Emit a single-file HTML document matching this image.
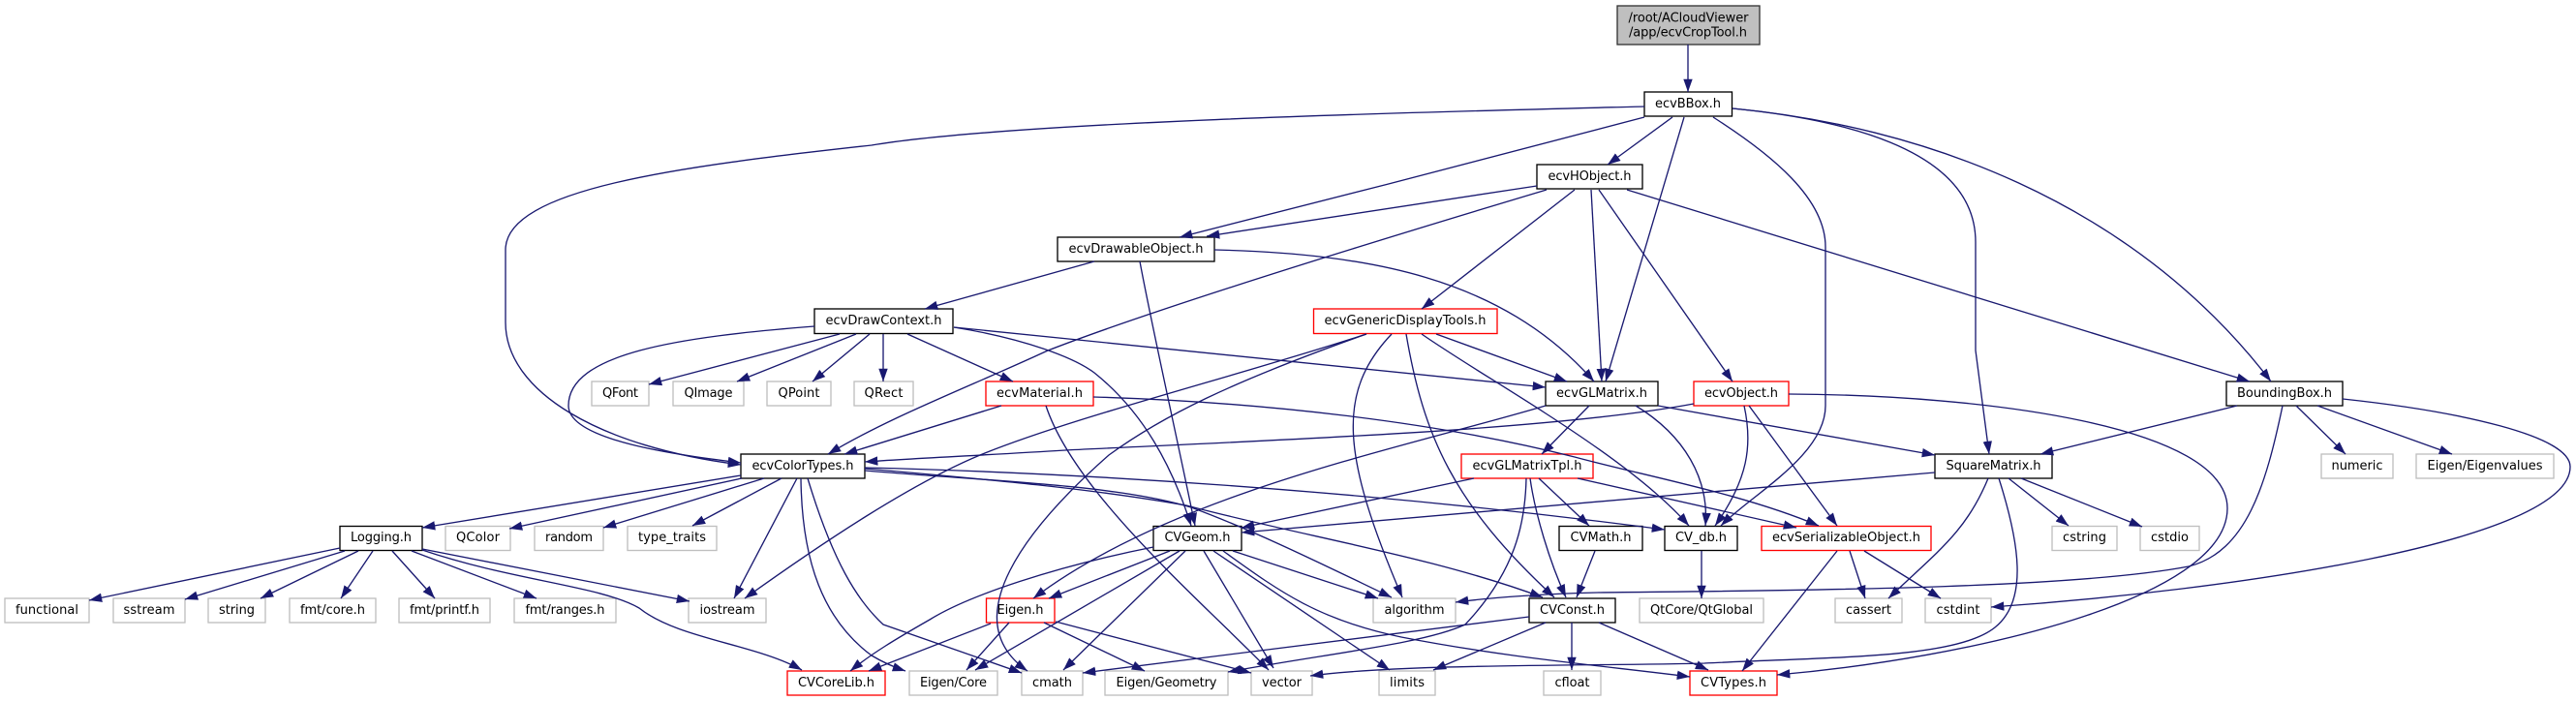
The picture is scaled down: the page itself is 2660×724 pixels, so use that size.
<!DOCTYPE html>
<html>
<head>
<meta charset="utf-8">
<title>ecvCropTool.h include graph</title>
<style>
html,body{margin:0;padding:0;background:#fff;}
svg{display:block;}
text{font-family:"DejaVu Sans","Liberation Sans",sans-serif;font-size:13px;fill:#000;text-anchor:middle;}
.k{fill:#fff;stroke:#000;stroke-width:1.33;}
.g{fill:#fff;stroke:#bfbfbf;stroke-width:1.33;}
.r{fill:#fff;stroke:#ff0000;stroke-width:1.33;}
</style>
</head>
<body>
<svg xmlns="http://www.w3.org/2000/svg" width="2660" height="724" viewBox="0 0 2660 724">
<defs>
<marker id="a" markerUnits="userSpaceOnUse" markerWidth="14" markerHeight="10" viewBox="0 0 14 10" refX="13.3" refY="5" orient="auto">
<path d="M0,.3 L13.3,5 L0,9.7 z" fill="#191970" stroke="none"/>
</marker>
</defs>

<!-- nodes -->
<rect x="1670" y="6" width="147" height="40" fill="#bfbfbf" stroke="#333" stroke-width="1.33"/>
<text x="1743.5" y="22.7" textLength="124">/root/ACloudViewer</text>
<text x="1743" y="37.7" textLength="122">/app/ecvCropTool.h</text>

<rect class="k" x="1698" y="95" width="90.5" height="25"/><text x="1743" y="111" textLength="68">ecvBBox.h</text>
<rect class="k" x="1587" y="170" width="109" height="25"/><text x="1641.5" y="186" textLength="86">ecvHObject.h</text>
<rect class="k" x="1092" y="245" width="162" height="25"/><text x="1173" y="261" textLength="139">ecvDrawableObject.h</text>
<rect class="k" x="841" y="319" width="143" height="25.5"/><text x="912.5" y="335" textLength="120">ecvDrawContext.h</text>
<rect class="r" x="1356.5" y="319" width="189.5" height="25.5"/><text x="1451" y="335" textLength="167">ecvGenericDisplayTools.h</text>

<rect class="g" x="611" y="394" width="59" height="25"/><text x="640.5" y="410" textLength="37">QFont</text>
<rect class="g" x="695" y="394" width="73" height="25"/><text x="731.5" y="410" textLength="50">QImage</text>
<rect class="g" x="792" y="394" width="66" height="25"/><text x="825" y="410" textLength="43">QPoint</text>
<rect class="g" x="882" y="394" width="61" height="25"/><text x="912.5" y="410" textLength="40">QRect</text>
<rect class="r" x="1018" y="394" width="111" height="25"/><text x="1073.5" y="410" textLength="89">ecvMaterial.h</text>
<rect class="k" x="1596" y="394" width="116" height="25"/><text x="1654" y="410" textLength="94">ecvGLMatrix.h</text>
<rect class="r" x="1749" y="394" width="98" height="25"/><text x="1798" y="410" textLength="76">ecvObject.h</text>
<rect class="k" x="2299" y="394" width="120" height="25"/><text x="2359" y="410" textLength="98">BoundingBox.h</text>

<rect class="k" x="765" y="469" width="128" height="25"/><text x="829" y="485" textLength="105">ecvColorTypes.h</text>
<rect class="r" x="1509" y="469" width="136" height="25"/><text x="1577" y="485" textLength="113">ecvGLMatrixTpl.h</text>
<rect class="k" x="1998" y="469" width="121" height="25"/><text x="2058.5" y="485" textLength="98">SquareMatrix.h</text>
<rect class="g" x="2397" y="469" width="74" height="25"/><text x="2434" y="485" textLength="53">numeric</text>
<rect class="g" x="2495" y="469" width="142" height="25"/><text x="2566" y="485" textLength="119">Eigen/Eigenvalues</text>

<rect class="k" x="351" y="543.5" width="85" height="25"/><text x="393.5" y="559" textLength="63">Logging.h</text>
<rect class="g" x="460" y="543.5" width="67" height="25"/><text x="493.5" y="559" textLength="45">QColor</text>
<rect class="g" x="552" y="543.5" width="71" height="25"/><text x="587.5" y="559" textLength="49">random</text>
<rect class="g" x="648" y="543.5" width="92" height="25"/><text x="694" y="559" textLength="70">type_traits</text>
<rect class="k" x="1191" y="543.5" width="91" height="25"/><text x="1236.5" y="559" textLength="68">CVGeom.h</text>
<rect class="k" x="1610" y="543.5" width="86" height="25"/><text x="1653" y="559" textLength="63">CVMath.h</text>
<rect class="k" x="1719" y="543.5" width="75" height="25"/><text x="1756.5" y="559" textLength="53">CV_db.h</text>
<rect class="r" x="1819" y="543.5" width="175" height="25"/><text x="1906.5" y="559" textLength="153">ecvSerializableObject.h</text>
<rect class="g" x="2119" y="543.5" width="67" height="25"/><text x="2152.5" y="559" textLength="45">cstring</text>
<rect class="g" x="2210" y="543.5" width="61" height="25"/><text x="2240.5" y="559" textLength="39">cstdio</text>

<rect class="g" x="5" y="618" width="87" height="25"/><text x="48.5" y="634" textLength="65">functional</text>
<rect class="g" x="117" y="618" width="74" height="25"/><text x="154" y="634" textLength="53">sstream</text>
<rect class="g" x="215" y="618" width="59" height="25"/><text x="244.5" y="634" textLength="37">string</text>
<rect class="g" x="299" y="618" width="89" height="25"/><text x="343.5" y="634" textLength="67">fmt/core.h</text>
<rect class="g" x="412" y="618" width="94" height="25"/><text x="459" y="634" textLength="72">fmt/printf.h</text>
<rect class="g" x="531" y="618" width="105" height="25"/><text x="583.5" y="634" textLength="82">fmt/ranges.h</text>
<rect class="g" x="711" y="618" width="80" height="25"/><text x="751" y="634" textLength="57">iostream</text>
<rect class="r" x="1018.5" y="618" width="70.5" height="25"/><text x="1053.5" y="634" textLength="48">Eigen.h</text>
<rect class="g" x="1418" y="618" width="85" height="25"/><text x="1460.5" y="634" textLength="62">algorithm</text>
<rect class="k" x="1579" y="618" width="89" height="25"/><text x="1623.5" y="634" textLength="67">CVConst.h</text>
<rect class="g" x="1693" y="618" width="128" height="25"/><text x="1757" y="634" textLength="106">QtCore/QtGlobal</text>
<rect class="g" x="1895" y="618" width="69" height="25"/><text x="1929.5" y="634" textLength="47">cassert</text>
<rect class="g" x="1988" y="618" width="68" height="25"/><text x="2022" y="634" textLength="45">cstdint</text>

<rect class="r" x="813" y="693" width="101" height="25"/><text x="863.5" y="709" textLength="79">CVCoreLib.h</text>
<rect class="g" x="939" y="693" width="91" height="25"/><text x="984.5" y="709" textLength="69">Eigen/Core</text>
<rect class="g" x="1055" y="693" width="63" height="25"/><text x="1086.5" y="709" textLength="41">cmath</text>
<rect class="g" x="1141" y="693" width="127" height="25"/><text x="1204.5" y="709" textLength="104">Eigen/Geometry</text>
<rect class="g" x="1292" y="693" width="63" height="25"/><text x="1323.5" y="709" textLength="41">vector</text>
<rect class="g" x="1424" y="693" width="58" height="25"/><text x="1453" y="709" textLength="36">limits</text>
<rect class="g" x="1594" y="693" width="59" height="25"/><text x="1623.5" y="709" textLength="36">cfloat</text>
<rect class="r" x="1745" y="693" width="90" height="25"/><text x="1790" y="709" textLength="68">CVTypes.h</text>

<!-- edges -->
<g fill="none" stroke="#191970" stroke-width="1.33" marker-end="url(#a)">
<path d="M1743,46 L1743,95"/>
<!-- ecvBBox -->
<path d="M1698,110 C1500,115 1050,125 900,150 C700,172 522,195 522,258 L522,333 C522,405 620,462 765,480"/>
<path d="M1698,121 C1620,142 1350,212 1218,245"/>
<path d="M1727,121 L1660,170"/>
<path d="M1739,121 L1658,394"/>
<path d="M1769,121 C1830,160 1885,205 1885,255 L1885,419 C1885,470 1810,510 1777,543"/>
<path d="M1789,112 C1890,122 2040,150 2040,250 L2040,362 L2054,469"/>
<path d="M1789,112 C1980,130 2200,205 2345,394"/>
<!-- ecvHObject -->
<path d="M1587,192 L1246,244"/>
<path d="M1597,196 C1400,255 1190,320 1082,362 C1000,400 920,430 855,469"/>
<path d="M1626,196 L1468,319"/>
<path d="M1643,196 L1654,394"/>
<path d="M1651,196 L1789,394"/>
<path d="M1680,196 L2323,394"/>
<!-- ecvDrawableObject -->
<path d="M1130,270 L955,319"/>
<path d="M1177,270 C1190,340 1215,450 1234,543"/>
<path d="M1254,258 C1410,262 1550,285 1646,394"/>
<!-- ecvDrawContext -->
<path d="M841,337 C700,348 587,365 587,419 C587,455 700,470 765,478"/>
<path d="M867,345 L670,397"/>
<path d="M884,345 L761,394"/>
<path d="M898,345 L839,394"/>
<path d="M912,345 L912,394"/>
<path d="M937,345 L1046,394"/>
<path d="M985,338 C1060,350 1110,370 1130,385 C1180,425 1210,480 1230,543"/>
<path d="M985,338 L1596,400"/>
<!-- ecvMaterial -->
<path d="M1034,419 L872,469"/>
<path d="M1080,419 C1110,510 1240,620 1310,692"/>
<path d="M1129,410 C1300,415 1480,435 1626,472 C1700,492 1800,510 1878,543"/>
<!-- ecvGenericDisplayTools -->
<path d="M1483,345 L1618,394"/>
<path d="M1468,345 C1540,395 1680,470 1744,543"/>
<path d="M1452,345 C1470,450 1500,520 1605,617"/>
<path d="M1437,345 C1380,405 1385,470 1448,617"/>
<path d="M1411,345 C1280,388 1110,430 1012,470 C940,500 850,560 769,618"/>
<path d="M1411,345 C1270,395 1200,430 1145,470 C1060,545 985,640 1061,693"/>
<!-- ecvGLMatrix -->
<path d="M1641,419 L1592,469"/>
<path d="M1689,419 C1740,450 1765,495 1761,543"/>
<path d="M1712,419 L1998,470"/>
<path d="M1596,419 C1440,465 1210,510 1067,618"/>
<!-- ecvObject -->
<path d="M1749,417 C1600,445 1300,455 1100,465 C1020,470 950,473 893,477"/>
<path d="M1801,419 C1810,460 1805,495 1771,543"/>
<path d="M1806,419 L1897,543"/>
<path d="M1847,407 C2050,408 2300,440 2300,525 C2300,620 2030,680 1835,697"/>
<!-- BoundingBox -->
<path d="M2310,419 L2107,469"/>
<path d="M2371,419 L2422,469"/>
<path d="M2393,419 L2532,469"/>
<path d="M2419,412 C2540,425 2654,450 2654,482 C2654,560 2300,610 2056,627"/>
<path d="M2357,419 C2340,500 2320,570 2260,585 C2130,610 1800,610 1650,612 C1600,613 1540,617 1503,622"/>
<!-- SquareMatrix -->
<path d="M1998,488 L1282,550"/>
<path d="M2053,494 C2030,550 2000,570 1950,618"/>
<path d="M2064,494 C2085,560 2095,620 2060,648 C2020,680 1900,678 1760,685 C1650,688 1450,685 1353,698"/>
<path d="M2074,494 L2136,543"/>
<path d="M2087,494 L2212,544"/>
<!-- ecvColorTypes -->
<path d="M765,491 L436,545"/>
<path d="M766,494 L526,546"/>
<path d="M789,494 L623,545"/>
<path d="M807,494 L715,543"/>
<path d="M823,494 L758,618"/>
<path d="M827,494 C828,580 850,640 900,677 C910,683 920,688 935,693"/>
<path d="M834,494 C860,580 885,620 912,645 L1055,695"/>
<path d="M893,483 C1100,488 1400,505 1719,547"/>
<path d="M893,484 C1020,495 1130,505 1225,522 C1350,555 1480,575 1593,617"/>
<path d="M893,486 C1020,497 1150,500 1230,524 C1300,550 1370,585 1437,617"/>
<!-- Logging -->
<path d="M351,566 L92,620"/>
<path d="M356,569 L191,619"/>
<path d="M370,569 L269,618"/>
<path d="M385,569 L352,618"/>
<path d="M405,569 L449,618"/>
<path d="M425,569 L554,618"/>
<path d="M436,567 L712,621"/>
<path d="M436,568 C530,600 620,605 660,628 C700,660 780,665 828,692"/>
<!-- CVGeom -->
<path d="M1191,565 C1090,585 1000,615 960,640 C925,660 900,675 878,693"/>
<path d="M1208,569 L1083,618"/>
<path d="M1218,569 L1007,692"/>
<path d="M1224,569 L1098,692"/>
<path d="M1243,569 L1315,690"/>
<path d="M1253,569 L1435,692"/>
<path d="M1263,569 C1320,610 1360,640 1447,658 C1560,680 1660,688 1745,699"/>
<path d="M1273,569 L1423,618"/>
<!-- Eigen.h -->
<path d="M1023,644 L897,693"/>
<path d="M1042,643 L998,692"/>
<path d="M1078,643 L1182,693"/>
<path d="M1090,642 L1292,695"/>
<!-- CVConst -->
<path d="M1579,637 L1118,695"/>
<path d="M1596,643 L1480,692"/>
<path d="M1623,643 L1623,692"/>
<path d="M1651,643 L1764,692"/>
<!-- CVMath, CV_db -->
<path d="M1647,569 L1628,617"/>
<path d="M1757,569 L1757,618"/>
<!-- ecvGLMatrixTpl -->
<path d="M1522,494 L1282,545"/>
<path d="M1589,494 L1641,543"/>
<path d="M1580,494 C1585,530 1600,580 1617,617"/>
<path d="M1576,494 C1575,540 1565,590 1513,645 C1470,665 1370,675 1268,694"/>
<path d="M1629,494 L1855,545"/>
<!-- ecvSerializableObject -->
<path d="M1897,569 L1799,693"/>
<path d="M1910,569 L1926,618"/>
<path d="M1925,569 L2004,618"/>
</g>
</svg>
</body>
</html>
